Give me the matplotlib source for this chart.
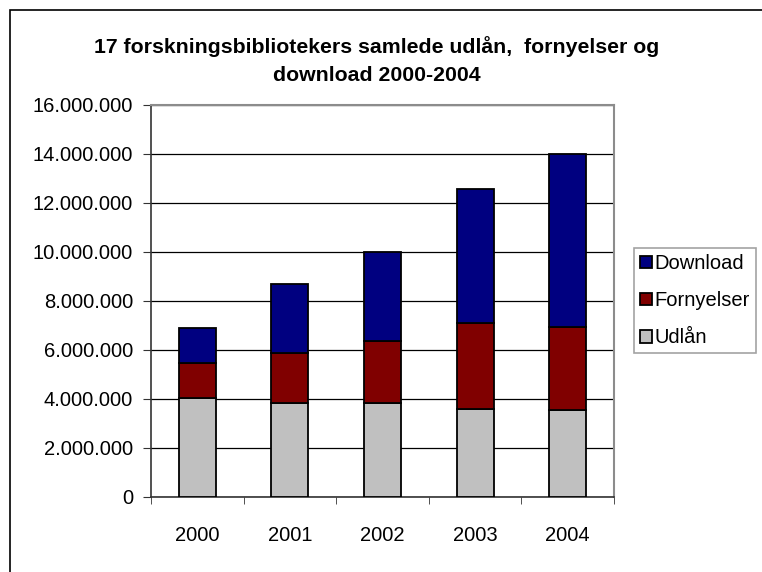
import matplotlib.pyplot as plt
from matplotlib.patches import Rectangle
from matplotlib.ticker import FuncFormatter

years = ["2000", "2001", "2002", "2003", "2004"]
udlaan = [4040000, 3830000, 3830000, 3600000, 3560000]
fornyelser = [1440000, 2050000, 2510000, 3480000, 3370000]
download = [1410000, 2810000, 3660000, 5480000, 7070000]

TITLE = "17 forskningsbibliotekers samlede udlån,  fornyelser og\ndownload 2000-2004"

plt.rcParams["font.family"] = ["Liberation Sans", "DejaVu Sans"]

fig = plt.figure(figsize=(7.62, 5.72), dpi=100)

# outer chart frame (runs off the right and bottom edges like the original)
fig.patches.append(
    Rectangle((10 / 762, -0.05), 1.2, 1 - 10 / 572 + 0.05,
              transform=fig.transFigure, fill=False, edgecolor="black",
              linewidth=1.2)
)

ax = fig.add_axes([151 / 762, 75 / 572, 463 / 762, 392.5 / 572])

x = range(len(years))
width = 0.4
bottom2 = [a + b for a, b in zip(udlaan, fornyelser)]

ax.bar(x, udlaan, width, color="#C0C0C0", edgecolor="black", linewidth=1.3,
       label="Udlån", zorder=3)
ax.bar(x, fornyelser, width, bottom=udlaan, color="#800000", edgecolor="black",
       linewidth=1.3, label="Fornyelser", zorder=3)
ax.bar(x, download, width, bottom=bottom2, color="#000080", edgecolor="black",
       linewidth=1.3, label="Download", zorder=3)

ax.set_xlim(-0.5, len(years) - 0.5)
ax.set_ylim(0, 16000000)
ax.set_yticks(range(0, 16000001, 2000000))
ax.yaxis.set_major_formatter(
    FuncFormatter(lambda v, pos: f"{int(v):,}".replace(",", "."))
)
ax.set_xticks(list(x))
ax.set_xticklabels(years)
ax.set_xticks([i - 0.5 for i in range(len(years) + 1)], minor=True)
ax.tick_params(axis="x", which="major", length=0, pad=21, labelsize=14.5)
ax.tick_params(axis="x", which="minor", length=5, direction="out",
               color="#333333")
ax.tick_params(axis="y", length=6, direction="out", labelsize=14.5, pad=7,
               color="#333333")

ax.grid(axis="y", color="black", linewidth=0.9, zorder=0)
ax.set_axisbelow(True)

for side in ["top", "right"]:
    ax.spines[side].set_color("#8c8c8c")
    ax.spines[side].set_linewidth(1.5)
for side in ["left", "bottom"]:
    ax.spines[side].set_color("#333333")
    ax.spines[side].set_linewidth(1.2)

fig.text(377 / 762, 1 - 60.5 / 572, TITLE, ha="center", va="center",
         fontsize=15.3, fontweight="bold", linespacing=1.55)

handles, labels = ax.get_legend_handles_labels()
leg = fig.legend(handles[::-1], labels[::-1], loc="upper left",
                 bbox_to_anchor=(634 / 762, 1 - 248 / 572), fontsize=14.5,
                 frameon=True, fancybox=False, handlelength=0.6,
                 handleheight=0.6, handletextpad=0.1, borderpad=0.3,
                 labelspacing=0.9, borderaxespad=0)
leg.get_frame().set_edgecolor("#8c8c8c")
leg.get_frame().set_linewidth(1.2)

fig.savefig("out.png", dpi=100)
